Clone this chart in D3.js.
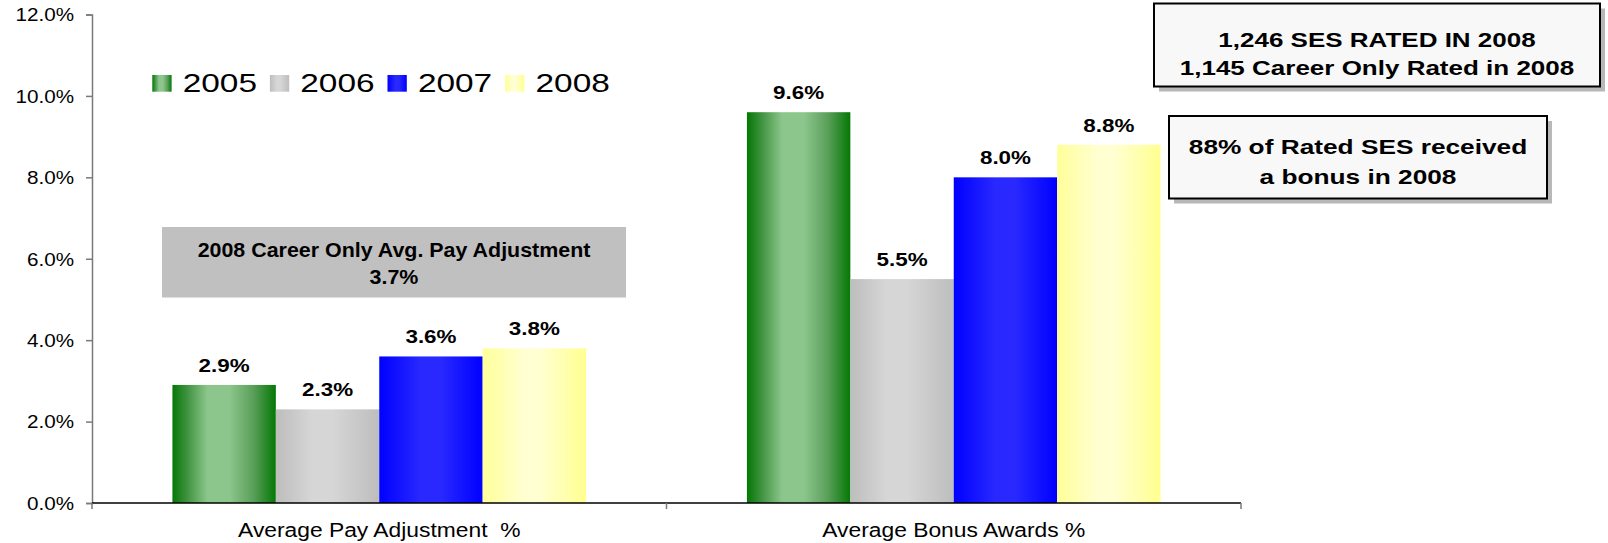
<!DOCTYPE html>
<html>
<head>
<meta charset="utf-8">
<script src="https://cdn.jsdelivr.net/npm/d3@7"></script>
<style>
  body { margin: 0; background: #fff; }
  svg { display: block; font-family: "Liberation Sans", Arial, sans-serif; }
</style>
</head>
<body>
<script>
// ---- data ----
const categories = ["Average Pay Adjustment  %", "Average Bonus Awards %"];
const years = ["2005", "2006", "2007", "2008"];
const payAdjustment = [0.029, 0.023, 0.036, 0.038];
const bonusAwards   = [0.096, 0.055, 0.080, 0.088];
const yTicks = [0, 0.02, 0.04, 0.06, 0.08, 0.10, 0.12];

const careerNote = ["2008 Career Only Avg. Pay Adjustment", "3.7%"];
const ratedNote  = ["1,246 SES RATED IN 2008", "1,145 Career Only Rated in 2008"];
const bonusNote  = ["88% of Rated SES received", "a bonus in 2008"];

const series = [payAdjustment, bonusAwards];

// ---- layout ----
const WIDTH = 1608, HEIGHT = 543;
const plot = {left: 92, right: 1241, top: 14.5, bottom: 503};

// gradient stops for each year (left -> middle -> right)
const gradStops = {
  "2005": [["0%", "#047804"], ["14%", "#3f923f"], ["34%", "#8cc68c"], ["55%", "#8cc68c"], ["78%", "#5b9f5b"], ["100%", "#047804"]],
  "2006": [["0%", "#bdbdbd"], ["35%", "#d6d6d6"], ["55%", "#d6d6d6"], ["100%", "#bdbdbd"]],
  "2007": [["0%", "#0000ff"], ["40%", "#2828ff"], ["60%", "#2828ff"], ["100%", "#0000ff"]],
  "2008": [["0%", "#ffff99"], ["40%", "#ffffd2"], ["55%", "#ffffd2"], ["100%", "#ffff90"]]
};

const svg = d3.select("body").append("svg")
    .attr("width", WIDTH)
    .attr("height", HEIGHT);

const defs = svg.append("defs");
years.forEach(yr => {
  const g = defs.append("linearGradient")
      .attr("id", "grad" + yr)
      .attr("x1", "0%").attr("x2", "100%")
      .attr("y1", "0%").attr("y2", "0%");
  gradStops[yr].forEach(s => g.append("stop").attr("offset", s[0]).attr("stop-color", s[1]));
});

// horizontally stretched text, like the original picture
function stretchText(sel, x, y, str, opts) {
  return sel.append("text")
      .attr("transform", "translate(" + x + "," + y + ") scale(" + (opts.sx || 1) + ",1)")
      .attr("text-anchor", opts.anchor || "middle")
      .attr("font-size", opts.size)
      .attr("font-weight", opts.bold ? "bold" : "normal")
      .attr("fill", "#000")
      .attr("xml:space", "preserve")
      .style("white-space", "pre")
      .text(str);
}

// ---- scales ----
const x0 = d3.scaleBand()
    .domain(categories)
    .range([plot.left, plot.right])
    .paddingInner(0.28)
    .paddingOuter(0.14);

const x1 = d3.scaleBand()
    .domain(years)
    .range([0, x0.bandwidth()])
    .padding(0);

const y = d3.scaleLinear()
    .domain([0, 0.12])
    .range([plot.bottom, plot.top]);

const fmt = d3.format(".1%");

// ---- y axis ----
const yAxis = svg.append("g")
    .attr("transform", "translate(" + plot.left + ",0)")
    .call(d3.axisLeft(y).tickValues(yTicks).tickFormat(fmt).tickSize(6).tickPadding(9.2));

yAxis.select(".domain").attr("stroke", "#7a7a7a").attr("stroke-width", 1.5);
yAxis.selectAll(".tick line").attr("stroke", "#7a7a7a").attr("stroke-width", 1.5);
yAxis.selectAll(".tick text")
    .attr("font-size", 17.5)
    .attr("font-family", "'Liberation Sans', Arial, sans-serif")
    .attr("fill", "#000")
    .attr("dy", "0.36em")
    .attr("transform", "scale(1.18,1)");

// ---- annotation box behind bars (career only) ----
const careerBox = svg.append("g");
careerBox.append("rect")
    .attr("x", 162).attr("y", 227)
    .attr("width", 464).attr("height", 70.5)
    .attr("fill", "#c0c0c0");
stretchText(careerBox, 394, 257.3, careerNote[0], {size: 21, bold: true, sx: 1.02});
stretchText(careerBox, 394, 284, careerNote[1], {size: 21, bold: true, sx: 1.02});

// ---- bars ----
const groups = svg.selectAll(".group")
    .data(categories)
    .enter().append("g")
      .attr("class", "group")
      .attr("transform", d => "translate(" + x0(d) + ",0)");

groups.each(function(cat, ci) {
  const g = d3.select(this);
  const vals = years.map((yr, i) => ({year: yr, value: series[ci][i]}));

  g.selectAll("rect")
      .data(vals)
      .enter().append("rect")
        .attr("x", d => x1(d.year))
        .attr("y", d => y(d.value))
        .attr("width", x1.bandwidth())
        .attr("height", d => y(0) - y(d.value))
        .attr("fill", d => "url(#grad" + d.year + ")");

  vals.forEach(d => {
    stretchText(g, x1(d.year) + x1.bandwidth() / 2, y(d.value) - 13, fmt(d.value), {size: 19, bold: true, sx: 1.18});
  });
});

// ---- x axis ----
svg.append("line")
    .attr("x1", plot.left).attr("x2", plot.right)
    .attr("y1", plot.bottom).attr("y2", plot.bottom)
    .attr("stroke", "#000").attr("stroke-width", 1.5);

const boundaries = [plot.left].concat(categories.map(c => x0(c) + x0.bandwidth() + x0.step() * x0.paddingOuter()));
svg.selectAll(".xtick")
    .data(boundaries)
    .enter().append("line")
      .attr("class", "xtick")
      .attr("x1", d => d).attr("x2", d => d)
      .attr("y1", plot.bottom).attr("y2", plot.bottom + 6)
      .attr("stroke", "#7a7a7a").attr("stroke-width", 1.5);

categories.forEach(c => {
  stretchText(svg, x0(c) + x0.bandwidth() / 2, 536.7, c, {size: 19.5, sx: 1.17});
});

// ---- legend ----
const legend = svg.append("g");
years.forEach((yr, i) => {
  const lx = 152.3 + i * 117.6;
  legend.append("rect")
      .attr("x", lx).attr("y", 75)
      .attr("width", 19.3).attr("height", 16.7)
      .attr("fill", "url(#grad" + yr + ")");
  stretchText(legend, lx + 30.4, 92.3, yr, {size: 25.5, sx: 1.31, anchor: "start"});
});

// ---- right-hand note boxes ----
function noteBox(x, yy, w, h, lines, baselines, size, sx) {
  const g = svg.append("g");
  g.append("rect")
      .attr("x", x + 5).attr("y", yy + 5)
      .attr("width", w).attr("height", h)
      .attr("fill", "#b8b8b8");
  g.append("rect")
      .attr("x", x).attr("y", yy)
      .attr("width", w).attr("height", h)
      .attr("fill", "#f8f8f8")
      .attr("stroke", "#000").attr("stroke-width", 2);
  lines.forEach((t, i) => stretchText(g, x + w / 2, baselines[i], t, {size: size, bold: true, sx: sx}));
}

noteBox(1154, 3.5, 446, 83, ratedNote, [47.3, 75.3], 20, 1.3);
noteBox(1169, 116, 378, 82.5, bonusNote, [153.7, 183.7], 21, 1.25);
</script>
</body>
</html>
